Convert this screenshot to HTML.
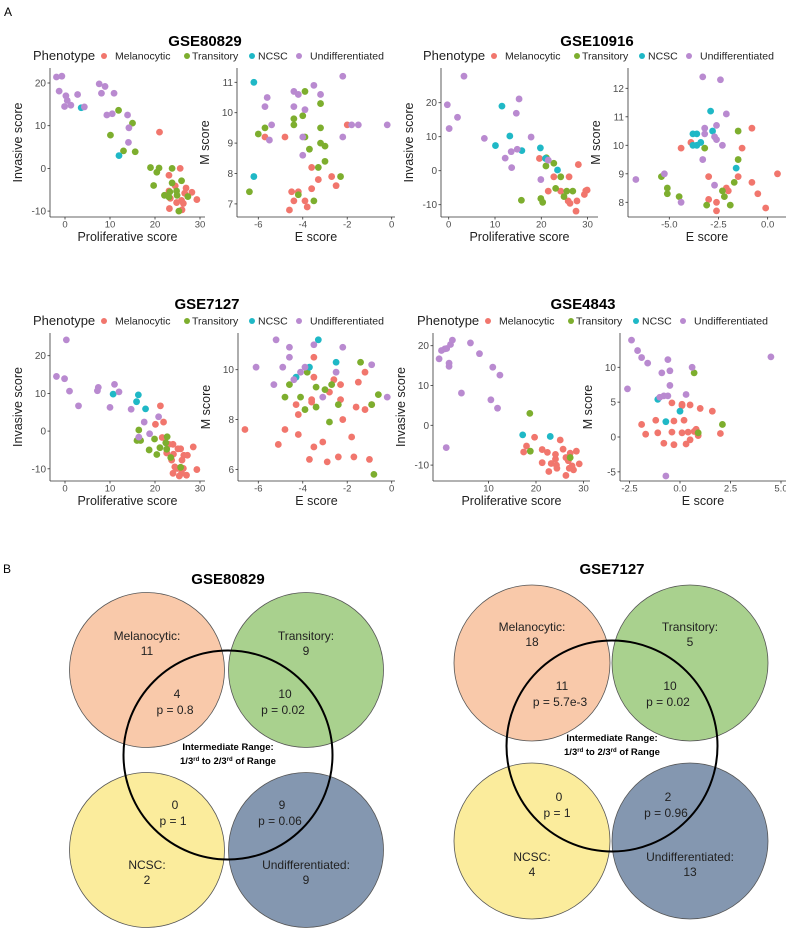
<!DOCTYPE html>
<html><head><meta charset="utf-8"><style>
body{margin:0;background:#fff}
svg{display:block;font-family:"Liberation Sans",sans-serif}
</style></head><body>
<svg id="fig" width="786" height="930" viewBox="0 0 786 930" xmlns="http://www.w3.org/2000/svg">
<text x="4" y="16" font-size="12">A</text>
<text x="3" y="573" font-size="12">B</text>
<g id="scatters"></g>
<g id="venns"></g>
</svg>
<script>
// ---- data: [x, y] per phenotype per panel ----
const p1_mel=[[21,8.5],[25.6,0],[23.1,-1.6],[24.5,-4.1],[23.1,-5.3],[23.4,-7],[24.8,-8],[25.9,-7.5],[26.9,-4.6],[28.2,-5.6],[26.3,-8.2],[26,-9.7],[23.2,-9.4],[29.3,-7.3],[26.6,-5.8]];
const p1_tra=[[11.9,13.6],[15,10.6],[10.1,7.8],[13,4.1],[15.6,3.9],[19,0.2],[20.4,-0.9],[20.9,0.1],[19.7,-4],[23.8,0],[23.8,-3.4],[25.9,-2.9],[22.1,-6.3],[23.1,-6.7],[23.3,-5.5],[24.8,-5.3],[24.9,-6.3],[27.3,-6.6],[25.3,-10]];
const p1_ncs=[[3.6,14.2],[12,3]];
const p1_und=[[-1.9,21.4],[-0.7,21.6],[-1.3,18.1],[0.2,17],[0.5,15.9],[-0.1,14.5],[1.3,14.8],[2.8,17.3],[4.3,14.4],[7.6,19.8],[8.9,19.2],[8.1,17.6],[10.9,17.6],[9.3,12.5],[10.5,12.8],[13.9,12.5],[14.2,9.5],[14.1,6.1]];
const p2_mel=[[-5.7,9.2],[-4.8,9.2],[-4.5,7.4],[-4.4,7.1],[-4.2,7.4],[-4.6,6.8],[-3.9,7.1],[-3.8,6.9],[-3.6,7.5],[-3.6,8.2],[-3.3,7.8],[-2.7,7.9],[-2.5,7.6],[-2,9.6]];
const p2_tra=[[-6.4,7.4],[-6,9.3],[-5.7,9.5],[-4.4,9.8],[-4.4,9.6],[-3.9,10.7],[-4,9.9],[-3.9,9.2],[-3.7,8.8],[-3.2,10.3],[-3.2,9.5],[-3.2,9],[-3,8.9],[-3,8.4],[-3.3,8.2],[-3.5,7.1],[-4.2,7.3],[-2.3,7.9]];
const p2_ncs=[[-6.2,11],[-6.2,7.9]];
const p2_und=[[-5.6,10.5],[-5.7,10.2],[-5.4,9.6],[-5.5,9.1],[-4.4,10.7],[-4.2,10.6],[-4.4,10.2],[-3.9,10.1],[-3.5,10.9],[-3.2,10.6],[-2.2,11.2],[-4,9.2],[-4,8.6],[-1.8,9.6],[-2.2,9.2],[-1.5,9.6],[-0.2,9.6]];
const p3_mel=[[19.6,3.6],[22.7,-1.8],[26,-1.8],[28,1.8],[21.5,-6],[24.2,-6],[25.8,-8.9],[26.2,-9.6],[27.7,-8.9],[27.5,-11.9],[29.6,-5.9],[29.3,-7],[29.9,-5.7]];
const p3_tra=[[21.1,3.8],[21,1.4],[22.7,2.2],[24.2,-1.8],[23.1,-5.2],[19.9,-8.2],[20.3,-9.3],[15.7,-8.7],[24.9,-7.6],[25.5,-6],[26.8,-6]];
const p3_ncs=[[11.5,19],[13.2,10.2],[10.1,7.4],[15.8,5.9],[19.8,6.7],[20.9,3.6],[23.5,0.2]];
const p3_und=[[-0.3,19.4],[0.1,12.4],[1.9,15.7],[3.3,27.8],[7.7,9.5],[15.2,21.1],[14.6,16.9],[17.8,9.9],[14.8,6.3],[13.5,5.6],[12.2,3.7],[13.6,0.9],[19.9,-2.6],[21.5,3.1]];
const p4_mel=[[-4.4,9.9],[-3.9,10.1],[-3,8.9],[-3,8.1],[-2.6,8],[-2.6,7.7],[-2.1,8.5],[-2,8.4],[-1.5,8.9],[-1.3,9.9],[-0.8,10.6],[-0.8,8.7],[-0.5,8.3],[-0.1,7.8],[0.5,9]];
const p4_tra=[[-5.4,8.9],[-5.1,8.5],[-5.1,8.3],[-4.5,8.2],[-3.2,9.9],[-1.5,10.5],[-1.5,9.5],[-1.7,8.7],[-2.3,8.4],[-2.2,8.2],[-3.1,7.9],[-1.9,7.9]];
const p4_ncs=[[-3.8,10.4],[-3.6,10.4],[-3.6,10],[-3.4,10.1],[-3.8,10],[-2.9,11.2],[-2.8,10.5],[-1.6,9.2]];
const p4_und=[[-6.7,8.8],[-5.25,9],[-4.4,8],[-3.3,12.4],[-2.4,12.3],[-2.1,11.1],[-3.2,10.6],[-3.2,10.4],[-2.6,10.7],[-2.7,10.3],[-2.6,10.2],[-2.3,10],[-3.3,9.5],[-2.7,8.6]];
const p5_mel=[[21.2,6.7],[20.1,1.8],[21.9,2.4],[21.6,-1.7],[23.1,-3.5],[24,-3.5],[22.6,-5.8],[23.7,-7.7],[24.1,-6.1],[25.1,-4.7],[25.7,-4.7],[26.4,-6.4],[27.2,-6.4],[28.5,-4.2],[26,-7.7],[24.4,-9.5],[24.9,-9.9],[26.3,-9.9],[24,-11.2],[25.9,-11.2],[27,-11.7],[29.3,-10.2],[25.4,-11.9]];
const p5_tra=[[16.4,0.3],[16,-2.5],[16.8,-2.5],[19.9,-2.1],[18.7,-5],[20.4,-6.2],[21.1,-4.4],[22.4,-3.1],[22.7,-1.5],[22.6,-4.8],[23.5,-7],[25.7,-9.6]];
const p5_ncs=[[10.7,9.8],[16.3,9.6],[15.9,7.8],[17.9,5.9]];
const p5_und=[[0.3,24.2],[-1.9,14.5],[-0.1,13.9],[1,10.6],[3,6.7],[7.2,10.7],[7.4,11.6],[11,12.4],[12,10.4],[10,6.3],[14.7,5.8],[17.6,2.4],[18.8,-0.7],[20.8,3.8],[16.4,-1.6]];
const p6_mel=[[-6.6,7.6],[-4.8,7.6],[-5.1,7],[-4.2,7.4],[-4.3,8.6],[-4.2,8.2],[-3.6,8.8],[-3.6,8.7],[-3.5,10.5],[-3.5,9.7],[-3.5,6.9],[-3.7,6.4],[-3.1,7.1],[-2.9,6.3],[-2.8,9.1],[-2.6,9.6],[-2.3,9.4],[-2.3,8.8],[-2.2,8],[-2.4,6.5],[-1.8,7.3],[-1.7,6.5],[-1.6,8.5],[-1.5,9.5],[-1.2,9.9],[-1.2,8.4],[-1,6.4],[-0.9,8.6]];
const p6_tra=[[-4.6,9.4],[-4.8,8.9],[-4.1,8.9],[-3.9,8.4],[-3.8,9.9],[-3.4,9.3],[-3.4,8.5],[-3,9.2],[-2.7,9.4],[-2.8,7.9],[-2.4,8.6],[-1.4,10.3],[-0.9,8.6],[-0.6,9],[-0.8,5.8]];
const p6_ncs=[[-4.3,9.7],[-3.7,10.1],[-3.3,11.2],[-2.5,10.3]];
const p6_und=[[-6.1,10.1],[-5.2,11.2],[-5.3,9.4],[-4.9,10.1],[-4.6,10.9],[-4.6,10.5],[-4.4,9.6],[-4.1,9.9],[-3.9,10.1],[-3.5,11],[-3.1,8.9],[-2.5,9.9],[-2.2,10.9],[-0.9,10.2],[-0.2,8.9]];
const p7_mel=[[17.4,-6.7],[18,-5.2],[19.7,-3],[21.3,-6.1],[21.3,-9.4],[22.4,-6.8],[22.7,-11.6],[23.2,-9.6],[24.1,-7.3],[24.1,-8.5],[24.3,-10],[25.1,-3.7],[24.4,-10.8],[25.7,-6],[26.3,-12.6],[26.3,-8.1],[26.8,-8.9],[27,-10.8],[27.6,-10.2],[27.9,-11.2],[28.5,-6.5],[29.1,-9.7],[27.2,-7]];
const p7_tra=[[18.7,3],[18.8,-6.5],[27.2,-8.1]];
const p7_ncs=[[17.2,-2.4],[23,-2.8]];
const p7_und=[[-0.4,16.7],[0.1,18.8],[0.8,19.2],[1.2,19.3],[1.7,15.6],[1.7,14.8],[2,20.3],[2.4,21.4],[4.3,8.1],[6.2,20.7],[8.1,18],[10.9,14.6],[12.4,12.6],[10.5,6.4],[11.9,4.3],[1.1,-5.6]];
const p8_mel=[[-1.9,1.8],[-1.7,0.4],[-1.2,2.4],[-1.1,0.6],[-0.8,-0.9],[-0.4,4.9],[-0.4,0.7],[-0.3,2.3],[-0.3,-1.1],[0.1,4.5],[0.1,4.7],[0.1,0.6],[0.2,2.4],[0.3,-1],[0.5,4.6],[0.4,0.7],[0.5,-0.4],[0.7,0.8],[0.8,1.1],[0.9,0.2],[1,4.1],[1.6,3.7],[2,0.5]];
const p8_tra=[[0.7,9.2],[0.9,0.6],[2.1,1.8]];
const p8_ncs=[[-1.1,5.4],[0,3.7],[-0.7,2.2]];
const p8_und=[[-2.6,6.9],[-2.4,13.9],[-2.1,12.4],[-1.9,11.4],[-1.6,10.6],[-0.6,11.1],[-0.9,9.2],[-0.5,9.5],[-0.5,7.4],[-1,5.7],[-0.8,5.9],[-0.6,5.9],[0.3,6.1],[0.6,10],[-0.7,-5.6],[4.5,11.5]];
const p1_xt=["0","10","20","30"], p1_yt=["-10","0","10","20"];
const p2_xt=["-6","-4","-2","0"], p2_yt=["7","8","9","10","11"];
const p3_xt=["0","10","20","30"], p3_yt=["-10","0","10","20"];
const p4_xt=["-5.0","-2.5","0.0"], p4_yt=["8","9","10","11","12"];
const p5_xt=["0","10","20","30"], p5_yt=["-10","0","10","20"];
const p6_xt=["-6","-4","-2","0"], p6_yt=["6","8","10"];
const p7_xt=["10","20","30"], p7_yt=["-10","0","10","20"];
const p8_xt=["-2.5","0.0","2.5","5.0"], p8_yt=["-5","0","5","10"];
const phenotypes=["Melanocytic","Transitory","NCSC","Undifferentiated"];
const venn1_counts=["11","9","2","9"], venn1_inter=["4","10","0","9"], venn1_p=["0.8","0.02","1","0.06"];
const venn2_counts=["18","5","4","13"], venn2_inter=["11","10","0","2"], venn2_p=["5.7e-3","0.02","1","0.96"];

const NS="http://www.w3.org/2000/svg";
const COLS=["#F1766D","#7DAE2E","#1FB8C6","#B98AD0"];
function mk(tag,attrs,parent,txt){const e=document.createElementNS(NS,tag);for(const k in attrs)e.setAttribute(k,attrs[k]);if(txt!==undefined)e.textContent=txt;parent.appendChild(e);return e;}
const S=document.getElementById('scatters');
const panels=[
 {id:'p1',d:[p1_mel,p1_tra,p1_ncs,p1_und],xt:p1_xt,yt:p1_yt,ax:50,r:205,t:68,b:217,x0:65,xs:4.5,yr:20,yp:83,ys:4.27,xl:'Proliferative score',yl:'Invasive score'},
 {id:'p2',d:[p2_mel,p2_tra,p2_ncs,p2_und],xt:p2_xt,yt:p2_yt,ax:237,r:395,t:68,b:217,xr:-6,x0:258.3,xs:22.23,yr:11,yp:82.3,ys:30.4,xl:'E score',yl:'M score'},
 {id:'p3',d:[p3_mel,p3_tra,p3_ncs,p3_und],xt:p3_xt,yt:p3_yt,ax:441,r:598,t:68,b:217,x0:448.7,xs:4.63,yr:20,yp:102.7,ys:3.4,xl:'Proliferative score',yl:'Invasive score'},
 {id:'p4',d:[p4_mel,p4_tra,p4_ncs,p4_und],xt:p4_xt,yt:p4_yt,ax:628,r:786,t:68,b:217,xr:-5,x0:669.3,xs:19.67,yr:12,yp:88.3,ys:28.5,xl:'E score',yl:'M score'},
 {id:'p5',d:[p5_mel,p5_tra,p5_ncs,p5_und],xt:p5_xt,yt:p5_yt,ax:50,r:205,t:333,b:481,x0:65,xs:4.5,yr:20,yp:355.7,ys:3.77,xl:'Proliferative score',yl:'Invasive score'},
 {id:'p6',d:[p6_mel,p6_tra,p6_ncs,p6_und],xt:p6_xt,yt:p6_yt,ax:238,r:395,t:333,b:481,xr:-6,x0:258.3,xs:22.23,yr:10,yp:369.7,ys:24.92,xl:'E score',yl:'M score'},
 {id:'p7',d:[p7_mel,p7_tra,p7_ncs,p7_und],xt:p7_xt,yt:p7_yt,ax:433,r:590,t:333,b:481,x0:441,xs:4.75,yr:20,yp:345.7,ys:3.98,xl:'Proliferative score',yl:'Invasive score'},
 {id:'p8',d:[p8_mel,p8_tra,p8_ncs,p8_und],xt:p8_xt,yt:p8_yt,ax:620,r:786,t:333,b:481,x0:680,xs:20.2,yr:10,yp:367.3,ys:6.97,xl:'E score',yl:'M score'}
];
panels.forEach(p=>{
 const xr=p.xr||0;
 const X=v=>p.x0+(v-xr)*p.xs, Y=v=>p.yp-(v-p.yr)*p.ys;
 const g=mk('g',{},S);
 
 
 const a1=mk('line',{x1:p.ax,y1:p.t,x2:p.ax,y2:p.b,stroke:'#333','stroke-width':0.8},g);
 
 
 const a2=mk('line',{x1:p.ax,y1:p.b,x2:p.r,y2:p.b,stroke:'#333','stroke-width':0.8},g);
 
 
 p.xt.forEach(t=>{const x=X(parseFloat(t));
  mk('line',{x1:x,y1:p.b,x2:x,y2:p.b+2.5,stroke:'#333','stroke-width':0.8},g);
  const e=mk('text',{x:x,y:p.b+10.5,'font-size':9.5,fill:'#4d4d4d','text-anchor':'middle'},g,t);
  
  });
 p.yt.forEach(t=>{const y=Y(parseFloat(t));
  mk('line',{x1:p.ax-2.5,y1:y,x2:p.ax,y2:y,stroke:'#333','stroke-width':0.8},g);
  const e=mk('text',{x:p.ax-4,y:y+3.5,'font-size':10,fill:'#4d4d4d','text-anchor':'end'},g,t);
  
  });
 const xlab=mk('text',{x:(p.ax+p.r)/2,y:p.b+24,'font-size':12.5,fill:'#222','text-anchor':'middle'},g,p.xl);
 
 
 const cy=(p.t+p.b)/2, cx=p.ax-28;
 const ylab=mk('text',{x:cx,y:cy,'font-size':12.5,fill:'#222','text-anchor':'middle',transform:`rotate(-90 ${cx} ${cy})`},g,p.yl);
 
 
 p.d.forEach((arr,i)=>arr.forEach(pt=>{
  const c=mk('circle',{cx:X(pt[0]),cy:Y(pt[1]),r:3.4,fill:COLS[i]},g);
  
  
 }));
});
const heads=[{t:'GSE80829',cx:205,ty:46,lx:33,ly:60},{t:'GSE10916',cx:597,ty:46,lx:423,ly:60},{t:'GSE7127',cx:207,ty:309,lx:33,ly:325},{t:'GSE4843',cx:583,ty:309,lx:417,ly:325}];
heads.forEach(h=>{
 const tt=mk('text',{x:h.cx,y:h.ty,'font-size':15,'font-weight':'bold','text-anchor':'middle'},S,h.t);
 
 
 const lg=mk('g',{},S);
 
 
 mk('text',{x:h.lx,y:h.ly,'font-size':13,fill:'#222'},lg,'Phenotype');
 const offs=[71,154,219,266], toffs=[82,159,225,277];
 phenotypes.forEach((ph,i)=>{
  const c=mk('circle',{cx:h.lx+offs[i],cy:h.ly-4,r:3,fill:COLS[i]},lg);
  
  
  const e=mk('text',{x:h.lx+toffs[i],y:h.ly-0.5,'font-size':10.5,fill:'#222'},lg,ph);
  
  
 });
});
const V=document.getElementById('venns');
const VC=["#F9C9AA","#A9D18E","#FBEC9C","#8497B0"];
function venn(title,tx,ty,cs,r,big,counts,inter,pv,lbl,ilbl){
 const g=mk('g',{},V);
 
 
 const t=mk('text',{x:tx,y:ty,'font-size':15,'font-weight':'bold','text-anchor':'middle'},g,title);
 
 
 cs.forEach((c,i)=>{const e=mk('circle',{cx:c[0],cy:c[1],r:r,fill:VC[i],stroke:'#555','stroke-width':0.8},g);
  
  });
 const b=mk('circle',{cx:big[0],cy:big[1],r:big[2],fill:'none',stroke:'#000','stroke-width':2},g);
 
 
 const F={'font-size':12,'text-anchor':'middle',fill:'#222'};
 phenotypes.forEach((ph,i)=>{
  const l=mk('text',Object.assign({x:lbl[i][0],y:lbl[i][1]},F),g,ph+':');
  
  
  mk('text',Object.assign({x:lbl[i][0],y:lbl[i][1]+15},F),g,counts[i]);
  const n=mk('text',Object.assign({x:ilbl[i][0],y:ilbl[i][1]},F),g,inter[i]);
  
  
  mk('text',Object.assign({x:ilbl[i][0]-2,y:ilbl[i][1]+16},F),g,'p = '+pv[i]);
 });
 const it=mk('text',{x:big[0],y:big[1]-5,'font-size':9.5,'font-weight':'bold','text-anchor':'middle'},g,'Intermediate Range:');
 
 
 const t2=mk('text',{x:big[0],y:big[1]+9,'font-size':9.5,'font-weight':'bold','text-anchor':'middle'},g);
 t2.innerHTML='1/3<tspan dy="-3" font-size="6">rd</tspan><tspan dy="3"> to 2/3</tspan><tspan dy="-3" font-size="6">rd</tspan><tspan dy="3"> of Range</tspan>';
}
venn('GSE80829',228,584,[[147,670],[306,670],[147,850],[306,850]],77.5,[228,755,104.5],venn1_counts,venn1_inter,venn1_p,
 [[147,640],[306,640],[147,869],[306,869]],[[177,698],[285,698],[175,809],[282,809]]);
venn('GSE7127',612,574,[[532,663],[690,663],[532,841],[690,841]],78,[612,746,105.5],venn2_counts,venn2_inter,venn2_p,
 [[532,631],[690,631],[532,861],[690,861]],[[562,690],[670,690],[559,801],[668,801]]);
</script>
</body></html>
